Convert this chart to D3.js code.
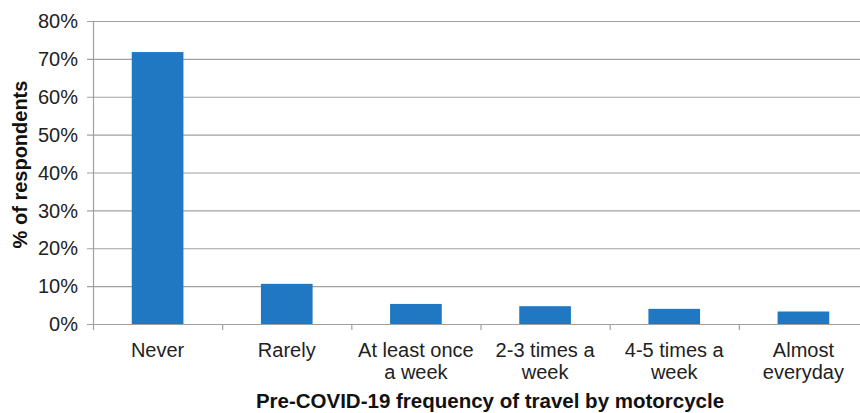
<!DOCTYPE html>
<html>
<head>
<meta charset="utf-8">
<script src="https://cdn.jsdelivr.net/npm/d3@7/dist/d3.min.js"></script>
<style>
  body { margin: 0; background: #fff; }
  svg { display: block; font-family: 'Liberation Sans', Arial, sans-serif; }
</style>
</head>
<body>
<div id="chart"></div>
<script>
// Pre-COVID-19 frequency of motorcycle travel, share of respondents (%)
const categories = ['Never', 'Rarely', 'At least once a week', '2-3 times a week', '4-5 times a week', 'Almost everyday']
const labelLines = [['Never'], ['Rarely'], ['At least once', 'a week'], ['2-3 times a', 'week'], ['4-5 times a', 'week'], ['Almost', 'everyday']]
const values = [71.8, 10.6, 5.3, 4.7, 4.0, 3.3]
const yTicks = [0, 10, 20, 30, 40, 50, 60, 70, 80]

const width = 860, height = 413
const margin = { top: 21, right: -8, bottom: 89, left: 93 }

const svg = d3.select('#chart').append('svg')
  .attr('width', width)
  .attr('height', height)

const x = d3.scaleBand()
  .domain(categories)
  .range([margin.left, width - margin.right])
  .paddingInner(0.6)
  .paddingOuter(0.3)

const y = d3.scaleLinear()
  .domain([0, 80])
  .range([height - margin.bottom, margin.top])

// gridlines
svg.append('g')
  .selectAll('line')
  .data(yTicks)
  .join('line')
  .attr('x1', margin.left - 6)
  .attr('x2', width)
  .attr('y1', d => y(d) + 0.5)
  .attr('y2', d => y(d) + 0.5)
  .attr('stroke', '#a0a0a0')
  .attr('stroke-width', 1.2)

// y tick labels
svg.append('g')
  .selectAll('text')
  .data(yTicks)
  .join('text')
  .attr('x', margin.left - 15)
  .attr('y', d => y(d))
  .attr('dy', '0.36em')
  .attr('text-anchor', 'end')
  .attr('font-size', 20)
  .attr('fill', '#222')
  .text(d => d + '%')

// y axis line
svg.append('line')
  .attr('x1', margin.left + 0.5).attr('x2', margin.left + 0.5)
  .attr('y1', y(80)).attr('y2', y(0))
  .attr('stroke', '#a0a0a0')
  .attr('stroke-width', 1.2)

// bars
svg.append('g')
  .selectAll('rect')
  .data(values)
  .join('rect')
  .attr('x', (d, i) => x(categories[i]))
  .attr('width', x.bandwidth())
  .attr('y', d => y(d))
  .attr('height', d => y(0) - y(d))
  .attr('fill', '#1f78c1')

// category tick marks
const step = x.step()
const bounds = categories.map((c, i) => margin.left + i * step)
svg.append('g')
  .selectAll('line')
  .data(bounds)
  .join('line')
  .attr('x1', d => d + 0.5).attr('x2', d => d + 0.5)
  .attr('y1', y(0)).attr('y2', y(0) + 6)
  .attr('stroke', '#a0a0a0')
  .attr('stroke-width', 1.2)

// category labels
const cat = svg.append('g')
  .selectAll('text')
  .data(labelLines)
  .join('text')
  .attr('x', (d, i) => x(categories[i]) + x.bandwidth() / 2)
  .attr('y', y(0) + 33)
  .attr('text-anchor', 'middle')
  .attr('font-size', 20)
  .attr('fill', '#222')
cat.selectAll('tspan')
  .data((d, i) => d.map(t => ({ t, i })))
  .join('tspan')
  .attr('x', d => x(categories[d.i]) + x.bandwidth() / 2)
  .attr('dy', (d, j) => j === 0 ? 0 : 22)
  .text(d => d.t)

// axis titles
svg.append('text')
  .attr('x', 490)
  .attr('y', 408)
  .attr('text-anchor', 'middle')
  .attr('font-size', 20.5)
  .attr('font-weight', 'bold')
  .attr('fill', '#111')
  .text('Pre-COVID-19 frequency of travel by motorcycle')

svg.append('text')
  .attr('transform', `translate(27, ${(y(0) + y(80)) / 2 - 8}) rotate(-90)`)
  .attr('text-anchor', 'middle')
  .attr('font-size', 20)
  .attr('font-weight', 'bold')
  .attr('fill', '#111')
  .text('% of respondents')
</script>
</body>
</html>
